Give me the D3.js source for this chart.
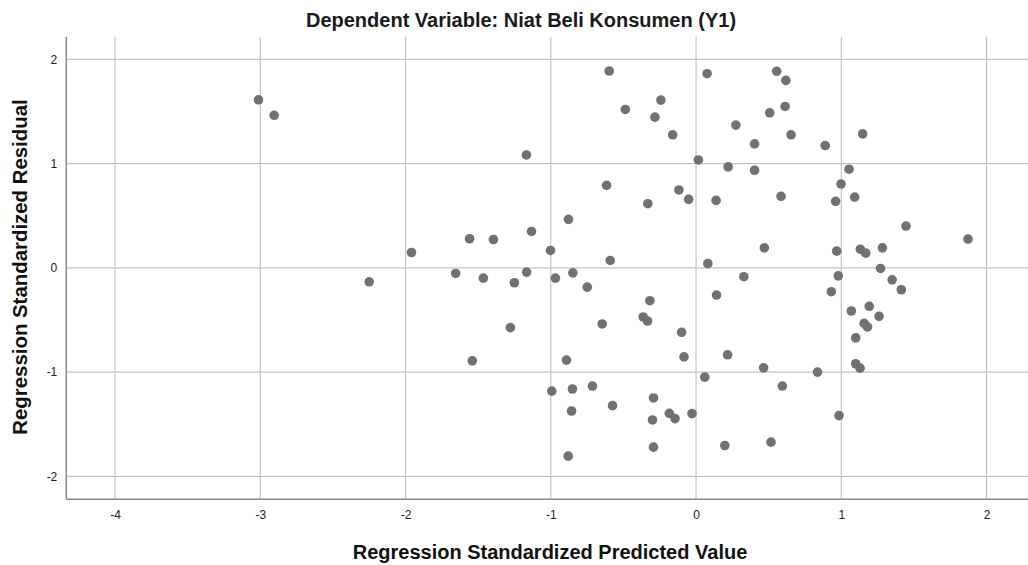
<!DOCTYPE html>
<html>
<head>
<meta charset="utf-8">
<script src="https://cdn.jsdelivr.net/npm/d3@7"></script>
<style>
  html, body { margin: 0; padding: 0; background: #ffffff; }
  svg { display: block; }
  text { font-family: "Liberation Sans", Arial, sans-serif; }
</style>
</head>
<body>
<svg id="chart" width="1028" height="565"></svg>
<script>
const titleText = "Dependent Variable: Niat Beli Konsumen (Y1)";
const xAxisTitle = "Regression Standardized Predicted Value";
const yAxisTitle = "Regression Standardized Residual";
const xTicks = [-4, -3, -2, -1, 0, 1, 2];
const yTicks = [-2, -1, 0, 1, 2];

const predicted = [
  -3.012, -2.904, -2.25, -1.959, -1.559, -1.395, -1.133, -1.168, -0.598, -0.487,
  -0.616, -0.878, -1.002, -0.591, -1.655, -1.464, -1.251, -1.166, -0.968, -0.848,
  -0.749, -1.278, -0.646, -1.54, -0.892, -0.993, -0.851, -0.713, -0.857, -0.575,
  -0.880, -0.242, -0.283, -0.161, 0.076, 0.555, 0.618, 0.613, 0.507, 0.274,
  0.654, 0.403, 0.889, 1.147, 0.016, 0.221, 0.403, 1.053, 0.998, -0.118,
  -0.051, -0.332, 0.138, 0.585, 0.961, 1.092, 0.470, 0.968, 1.131, 1.168,
  1.283, 0.081, 0.329, 0.979, 1.270, 1.445, 1.872, 1.350, 1.413, 0.931,
  -0.318, -0.364, -0.334, -0.099, -0.083, 0.141, 0.217, 0.465, 0.594, 0.836,
  0.060, 1.069, 1.192, 1.260, 1.157, 1.180, 1.099, 1.099, 1.129, 0.984,
  -0.293, -0.300, -0.184, -0.145, -0.028, -0.293, 0.198, 0.516
];
const residual = [
  1.612, 1.463, -0.134, 0.147, 0.279, 0.272, 0.349, 1.083, 1.888, 1.519,
  0.792, 0.465, 0.167, 0.071, -0.054, -0.099, -0.143, -0.041, -0.099, -0.048,
  -0.185, -0.573, -0.538, -0.892, -0.885, -1.182, -1.162, -1.134, -1.373, -1.322,
  -1.806, 1.609, 1.446, 1.276, 1.862, 1.885, 1.798, 1.548, 1.487, 1.369,
  1.276, 1.189, 1.173, 1.285, 1.035, 0.968, 0.936, 0.946, 0.804, 0.747,
  0.657, 0.615, 0.647, 0.686, 0.638, 0.679, 0.192, 0.160, 0.179, 0.141,
  0.192, 0.040, -0.085, -0.077, -0.006, 0.401, 0.276, -0.115, -0.210, -0.229,
  -0.315, -0.471, -0.510, -0.618, -0.854, -0.261, -0.834, -0.959, -1.134, -1.0,
  -1.048, -0.414, -0.369, -0.465, -0.533, -0.567, -0.672, -0.920, -0.962, -1.417,
  -1.248, -1.459, -1.395, -1.446, -1.398, -1.720, -1.704, -1.672
];

const svg = d3.select("#chart");
const padL = 66.3, padR = 1028, padT = 36.7, padB = 499.3;

const x = d3.scaleLinear().domain([-4.335, 2.285]).range([padL, padR]);
const y = d3.scaleLinear().domain([-2.22, 2.217]).range([padB, padT]);

// gridlines
const grid = svg.append("g");
grid.selectAll("line.v").data(xTicks).join("line").attr("class", "v")
  .attr("x1", d => x(d)).attr("x2", d => x(d))
  .attr("y1", padT).attr("y2", padB)
  .attr("stroke", "#c4c4c4").attr("stroke-width", 1.2);
grid.selectAll("line.h").data(yTicks).join("line").attr("class", "h")
  .attr("x1", padL).attr("x2", padR)
  .attr("y1", d => y(d)).attr("y2", d => y(d))
  .attr("stroke", "#c4c4c4").attr("stroke-width", 1.2);

// axis lines
svg.append("line").attr("x1", padL).attr("x2", padL).attr("y1", padT).attr("y2", padB)
  .attr("stroke", "#8a8a8a").attr("stroke-width", 1.5);
svg.append("line").attr("x1", padL).attr("x2", padR).attr("y1", padB).attr("y2", padB)
  .attr("stroke", "#8a8a8a").attr("stroke-width", 1.5);

// tick labels via axis generators (plain hyphen minus like the original)
const fmt = d => String(d);
const xAxis = d3.axisBottom(x).tickValues(xTicks).tickSize(0).tickPadding(11).tickFormat(fmt);
const gx = svg.append("g").attr("transform", `translate(0,${padB})`).call(xAxis);
gx.select(".domain").remove();
gx.selectAll("text").attr("font-size", 12).attr("fill", "#222").attr("font-family", "Liberation Sans, Arial, sans-serif");

const yAxis = d3.axisLeft(y).tickValues(yTicks).tickSize(0).tickPadding(9).tickFormat(fmt);
const gy = svg.append("g").attr("transform", `translate(${padL},0)`).call(yAxis);
gy.select(".domain").remove();
gy.selectAll("text").attr("font-size", 12).attr("fill", "#222").attr("font-family", "Liberation Sans, Arial, sans-serif");

// points
const pts = predicted.map((p, i) => ({ p, r: residual[i] }));
svg.append("g").selectAll("circle").data(pts).join("circle")
  .attr("cx", d => x(d.p)).attr("cy", d => y(d.r)).attr("r", 4.8)
  .attr("fill", "#717171");

// titles
svg.append("text").attr("x", 521).attr("y", 27).attr("text-anchor", "middle")
  .attr("font-size", 20).attr("font-weight", "bold").attr("fill", "#1a1a1a").text(titleText);
svg.append("text").attr("x", 550).attr("y", 559).attr("text-anchor", "middle")
  .attr("font-size", 20).attr("font-weight", "bold").attr("fill", "#111").text(xAxisTitle);
svg.append("text").attr("transform", `translate(27,267) rotate(-90)`)
  .attr("text-anchor", "middle")
  .attr("font-size", 20.4).attr("font-weight", "bold").attr("fill", "#111").text(yAxisTitle);
</script>
</body>
</html>
